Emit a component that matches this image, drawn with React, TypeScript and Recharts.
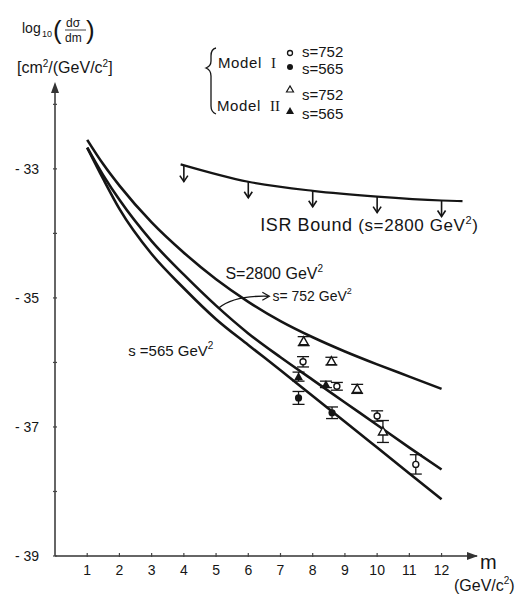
import React from 'react';
import {
  ComposedChart,
  Line,
  Scatter,
  ErrorBar,
  XAxis,
  YAxis,
  ReferenceDot,
} from 'recharts';

// axis ticks
const massTicks = [1, 2, 3, 4, 5, 6, 7, 8, 9, 10, 11, 12];
const logTicks = [-39, -38, -37, -36, -35, -34, -33, -32];
const labeledLogTicks = [-39, -37, -35, -33];

// theory curves, log10(dσ/dm) vs m
const curveMass = [1, 1.5, 2, 3, 4, 5, 6, 7, 8, 9, 10, 11, 12];
const curveS2800 = [-32.55, -32.93, -33.26, -33.83, -34.3, -34.71, -35.06, -35.36, -35.61, -35.83, -36.03, -36.22, -36.41];
const curveS752 = [-32.67, -33.1, -33.48, -34.12, -34.64, -35.12, -35.55, -35.92, -36.27, -36.62, -36.97, -37.32, -37.66];
const curveS565 = [-32.67, -33.16, -33.62, -34.32, -34.85, -35.33, -35.73, -36.12, -36.52, -36.92, -37.32, -37.72, -38.12];

// ISR upper bound (s = 2800 GeV^2)
const isrMass = [3.9, 6, 8, 10, 12, 12.65];
const isrValue = [-32.93, -33.2, -33.34, -33.43, -33.49, -33.5];
const isrArrowMass = [4, 6, 8, 10, 12];
const isrArrowValue = [-32.95, -33.2, -33.34, -33.43, -33.49];

// data points
const m1s752Mass = [7.7, 8.75, 10.0, 11.2];
const m1s752Value = [-35.99, -36.37, -36.83, -37.58];
const m1s752Err = [0.08, 0.06, 0.08, 0.15];

const m1s565Mass = [7.56, 8.6];
const m1s565Value = [-36.55, -36.78];
const m1s565Err = [0.1, 0.09];

const m2s752Mass = [7.72, 8.58, 9.38, 10.18];
const m2s752Value = [-35.67, -35.98, -36.41, -37.07];
const m2s752Err = [0.07, 0.06, 0.07, 0.17];

const m2s565Mass = [7.56, 8.41];
const m2s565Value = [-36.22, -36.34];
const m2s565Err = [0.07, 0.05];

const INK = '#151515';
const FONT = '"Liberation Sans", Arial, sans-serif';

const toPoints = (ms: number[], ys: number[], es?: number[]) =>
  ms.map((m, i) => ({ m, y: ys[i], e: es ? es[i] : 0 }));

const s2800Data = toPoints(curveMass, curveS2800);
const s752Data = toPoints(curveMass, curveS752);
const s565Data = toPoints(curveMass, curveS565);
const isrData = toPoints(isrMass, isrValue);
const isrArrowData = toPoints(isrArrowMass, isrArrowValue);

const openCircle = (p: any) => (
  <circle cx={p.cx} cy={p.cy} r={3} fill="#fff" stroke={INK} strokeWidth={1.4} />
);
const filledCircle = (p: any) => <circle cx={p.cx} cy={p.cy} r={3.6} fill={INK} />;
const triPoints = (cx: number, cy: number) =>
  `${cx},${cy - 4.5} ${cx - 4.5},${cy + 3.5} ${cx + 4.5},${cy + 3.5}`;
const openTriangle = (p: any) => (
  <polygon points={triPoints(p.cx, p.cy)} fill="#fff" stroke={INK} strokeWidth={1.4} />
);
const filledTriangle = (p: any) => <polygon points={triPoints(p.cx, p.cy)} fill={INK} />;

const downArrow = (p: any) => (
  <g stroke={INK} strokeWidth={1.6} fill="none">
    <line x1={p.cx} y1={p.cy} x2={p.cx} y2={p.cy + 16} />
    <polyline points={`${p.cx - 4},${p.cy + 10} ${p.cx},${p.cy + 16} ${p.cx + 4},${p.cy + 10}`} />
  </g>
);

const XTick = (props: any) => {
  const { x, y, payload } = props;
  return (
    <g>
      <line x1={x} y1={y - 3} x2={x} y2={y + 1} stroke="#444" strokeWidth={1.2} />
      <text x={x} y={y + 19} textAnchor="middle" fontSize={14} fill={INK} fontFamily={FONT}>
        {payload.value}
      </text>
    </g>
  );
};

const YTick = (props: any) => {
  const { x, y, payload } = props;
  const show = labeledLogTicks.includes(payload.value);
  return (
    <g>
      <line x1={x - 2} y1={y} x2={x + 2} y2={y} stroke="#444" strokeWidth={1.2} />
      {show && (
        <text x={x - 16} y={y + 5} textAnchor="end" fontSize={14} fill={INK} fontFamily={FONT}>
          {`- ${Math.abs(payload.value)}`}
        </text>
      )}
    </g>
  );
};

const note = (content: React.ReactNode, size: number, spacing = 0) => (p: any) => (
  <text x={p.cx} y={p.cy} fontSize={size} fill={INK} fontFamily={FONT} letterSpacing={spacing}>
    {content}
  </text>
);

const curvedArrow = (p: any) => {
  const { cx, cy } = p;
  return (
    <g stroke={INK} strokeWidth={1.3} fill="none">
      <path d={`M ${cx} ${cy} Q ${cx + 16} ${cy - 13} ${cx + 50} ${cy - 12}`} />
      <polyline points={`${cx + 44},${cy - 16} ${cx + 51},${cy - 12} ${cx + 44},${cy - 8}`} />
    </g>
  );
};

const yArrowHead = (p: any) => (
  <polygon points={`${p.cx},${p.cy - 3} ${p.cx - 4},${p.cy + 8} ${p.cx + 4},${p.cy + 8}`} fill="#333" />
);
const xArrowHead = (p: any) => (
  <polygon points={`${p.cx + 1},${p.cy} ${p.cx - 10},${p.cy - 4} ${p.cx - 10},${p.cy + 4}`} fill="#333" />
);

const Header = () => (
  <svg
    width={518}
    height={598}
    style={{ position: 'absolute', left: 0, top: 0, pointerEvents: 'none' }}
    fontFamily={FONT}
    fill={INK}
  >
    {/* y-axis title */}
    <text x={22} y={33} fontSize={14}>log</text>
    <text x={42} y={37} fontSize={9}>10</text>
    <text x={53} y={39} fontSize={26} fontWeight={300}>(</text>
    <text x={66} y={27} fontSize={12}>dσ</text>
    <line x1={65} y1={30} x2={86} y2={30} stroke={INK} strokeWidth={0.8} />
    <text x={65} y={42} fontSize={12}>dm</text>
    <text x={86} y={39} fontSize={26} fontWeight={300}>)</text>
    <text x={17} y={73} fontSize={16}>
      [cm<tspan fontSize={10} dy={-6}>2</tspan>
      <tspan dy={6}>/(GeV/c</tspan>
      <tspan fontSize={10} dy={-6}>2</tspan>
      <tspan dy={6}>]</tspan>
    </text>

    {/* legend */}
    <path
      d="M 216 48 Q 211 49 211 56 L 211 61 Q 211 66 206 68 Q 211 70 211 76 L 211 106 Q 211 112 216 114"
      stroke={INK}
      strokeWidth={1.3}
      fill="none"
    />
    <text x={218} y={68} fontSize={15} letterSpacing={0.6}>Model</text>
    <text x={271} y={68} fontSize={15} fontFamily="'Liberation Serif', serif">I</text>
    <text x={217} y={111} fontSize={15} letterSpacing={0.6}>Model</text>
    <text x={270} y={111} fontSize={15} fontFamily="'Liberation Serif', serif">II</text>
    <circle cx={290} cy={53} r={2.5} fill="#fff" stroke={INK} strokeWidth={1.3} />
    <circle cx={290} cy={67} r={3} fill={INK} />
    <polygon points="290,86 286.5,92 293.5,92" fill="#fff" stroke={INK} strokeWidth={1.2} />
    <polygon points="290,107 286,114 294,114" fill={INK} />
    <text x={302} y={57} fontSize={15}>s=752</text>
    <text x={302} y={74} fontSize={15}>s=565</text>
    <text x={302} y={100} fontSize={15}>s=752</text>
    <text x={302} y={119} fontSize={15}>s=565</text>

    {/* x-axis title */}
    <text x={480} y={569} fontSize={20}>m</text>
    <text x={454} y={591} fontSize={16}>
      (GeV/c<tspan fontSize={10} dy={-7}>2</tspan>
      <tspan dy={7}>)</tspan>
    </text>
  </svg>
);

export default function App() {
  return (
    <div style={{ position: 'absolute', left: 0, top: 0, width: 518, height: 598, background: '#fff' }}>
      <ComposedChart
        width={518}
        height={598}
        margin={{ top: 85, right: 41, bottom: 12, left: 5 }}
        style={{ fontFamily: FONT }}
      >
        <XAxis
          type="number"
          dataKey="m"
          domain={[0, 13.1]}
          ticks={massTicks}
          tick={<XTick />}
          tickLine={false}
          tickSize={0}
          tickMargin={0}
          height={30}
          axisLine={{ stroke: '#333', strokeWidth: 1.5 }}
          allowDataOverflow
        />
        <YAxis
          type="number"
          dataKey="y"
          domain={[-39, -31.7]}
          ticks={logTicks}
          tick={<YTick />}
          tickLine={false}
          tickSize={0}
          tickMargin={0}
          width={50}
          axisLine={{ stroke: '#333', strokeWidth: 1.5 }}
          allowDataOverflow
        />

        <Line data={isrData} dataKey="y" type="monotone" stroke={INK} strokeWidth={2.2} dot={false} activeDot={false} isAnimationActive={false} />
        <Scatter data={isrArrowData} dataKey="y" shape={downArrow} isAnimationActive={false} />

        <Line data={s2800Data} dataKey="y" type="monotone" stroke={INK} strokeWidth={2.6} dot={false} activeDot={false} isAnimationActive={false} />
        <Line data={s752Data} dataKey="y" type="monotone" stroke={INK} strokeWidth={2.6} dot={false} activeDot={false} isAnimationActive={false} />
        <Line data={s565Data} dataKey="y" type="monotone" stroke={INK} strokeWidth={2.6} dot={false} activeDot={false} isAnimationActive={false} />

        <Scatter data={toPoints(m1s752Mass, m1s752Value, m1s752Err)} dataKey="y" shape={openCircle} isAnimationActive={false}>
          <ErrorBar dataKey="e" direction="y" width={6} stroke={INK} strokeWidth={1.3} />
        </Scatter>
        <Scatter data={toPoints(m1s565Mass, m1s565Value, m1s565Err)} dataKey="y" shape={filledCircle} isAnimationActive={false}>
          <ErrorBar dataKey="e" direction="y" width={6} stroke={INK} strokeWidth={1.3} />
        </Scatter>
        <Scatter data={toPoints(m2s752Mass, m2s752Value, m2s752Err)} dataKey="y" shape={openTriangle} isAnimationActive={false}>
          <ErrorBar dataKey="e" direction="y" width={6} stroke={INK} strokeWidth={1.3} />
        </Scatter>
        <Scatter data={toPoints(m2s565Mass, m2s565Value, m2s565Err)} dataKey="y" shape={filledTriangle} isAnimationActive={false}>
          <ErrorBar dataKey="e" direction="y" width={6} stroke={INK} strokeWidth={1.3} />
        </Scatter>

        <ReferenceDot
          x={6.37}
          y={-33.96}
          ifOverflow="visible"
          shape={note(
            <>
              ISR  Bound <tspan fontSize={17}>(s=2800 GeV</tspan>
              <tspan fontSize={11} dy={-7}>2</tspan>
              <tspan fontSize={17} dy={7}>)</tspan>
            </>,
            18,
            0.6
          )}
        />
        <ReferenceDot
          x={5.29}
          y={-34.71}
          ifOverflow="visible"
          shape={note(
            <>
              S=2800 GeV<tspan fontSize={10} dy={-7}>2</tspan>
            </>,
            16
          )}
        />
        <ReferenceDot
          x={6.75}
          y={-35.05}
          ifOverflow="visible"
          shape={note(
            <>
              s= 752  GeV<tspan fontSize={9} dy={-7}>2</tspan>
            </>,
            14
          )}
        />
        <ReferenceDot x={5.07} y={-35.16} ifOverflow="visible" shape={curvedArrow} />
        <ReferenceDot
          x={2.27}
          y={-35.9}
          ifOverflow="visible"
          shape={note(
            <>
              s =565 GeV<tspan fontSize={10} dy={-7}>2</tspan>
            </>,
            15
          )}
        />

        <ReferenceDot x={0} y={-31.7} ifOverflow="visible" shape={yArrowHead} />
        <ReferenceDot x={13.1} y={-39} ifOverflow="visible" shape={xArrowHead} />
      </ComposedChart>
      <Header />
    </div>
  );
}
